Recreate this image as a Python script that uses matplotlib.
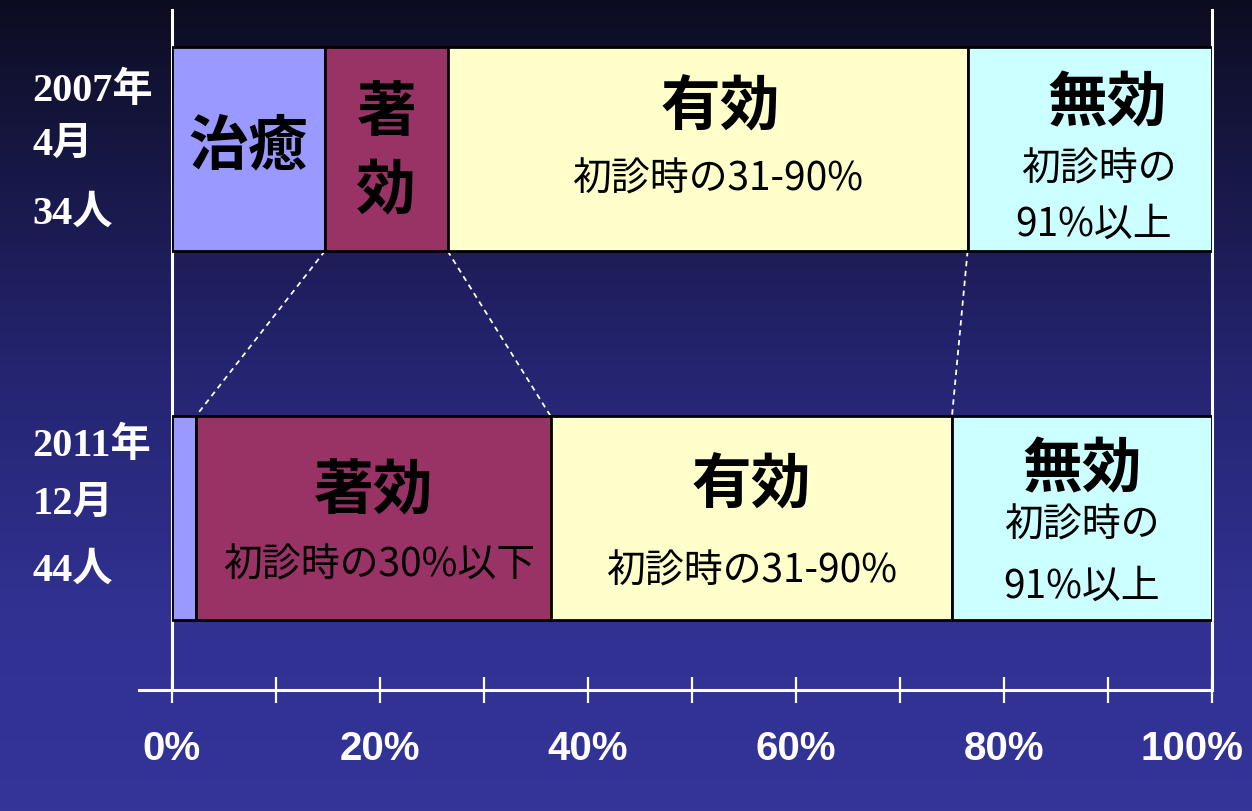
import numpy as np
import matplotlib
matplotlib.use("Agg")
import matplotlib.pyplot as plt
from matplotlib.colors import LinearSegmentedColormap
import matplotlib.transforms as mtransforms

# ---------------- data ----------------
rows = ["2007", "2011"]
row_labels = [["2007年", "4月", "34人"], ["2011年", "12月", "44人"]]
categories = ["治癒", "著効", "有効", "無効"]
# percent of patients (2007: 5,4,17,8 of 34 ; 2011: 1,15,17,11 of 44)
pct_2007 = [14.7, 11.8, 50.0, 23.5]
pct_2011 = [2.3, 34.1, 38.6, 25.0]
colors = ["#9999FF", "#993366", "#FFFFCC", "#CCFFFF"]
xticks_major = [0, 20, 40, 60, 80, 100]
xtick_labels = ["0%", "20%", "40%", "60%", "80%", "100%"]
xticks_minor = [10, 30, 50, 70, 90]

CJK = ["Noto Sans CJK JP", "DejaVu Sans"]
SERIF_CJK = ["Liberation Serif", "Noto Sans CJK JP"]

W, H = 1252, 811
fig = plt.figure(figsize=(W / 100, H / 100), dpi=100)

# background gradient
bg = fig.add_axes([0, 0, 1, 1])
bg.set_axis_off()
cmap = LinearSegmentedColormap.from_list(
    "bg", [(0.0, "#0c0c20"), (0.08, "#111130"), (0.45, "#242470"),
           (0.75, "#313192"), (1.0, "#343499")])
grad = np.linspace(0, 1, 256).reshape(-1, 1)
bg.imshow(grad, aspect="auto", cmap=cmap, extent=[0, 1, 0, 1], origin="upper")
bg.set_xlim(0, 1)
bg.set_ylim(0, 1)

# main axes : y data in pixel units (top=10, bottom axis line=690)
ax = fig.add_axes([172 / W, (H - 690) / H, 1040 / W, 680 / H])
ax.set_facecolor("none")
ax.set_xlim(0, 100)
ax.set_ylim(690, 10)

bar_y = [149, 518]
bar_h = 204
data = [pct_2007, pct_2011]
lefts_all = []
for yi, vals in zip(bar_y, data):
    lefts = np.concatenate([[0], np.cumsum(vals)[:-1]])
    lefts_all.append(lefts)
    ax.barh([yi] * len(vals), vals, left=lefts, height=bar_h, color=colors,
            edgecolor="black", linewidth=2.0, zorder=3)

# dashed connector lines between the two bars
top_edges = np.cumsum(pct_2007)[:-1]
bot_edges = np.cumsum(pct_2011)[:-1]
y_top = bar_y[0] + bar_h / 2
y_bot = bar_y[1] - bar_h / 2
for xt, xb in zip(top_edges, bot_edges):
    ax.plot([xt, xb], [y_top, y_bot], color="white", lw=1.3,
            linestyle=(0, (3, 2.5)), zorder=2)

# spines / ticks
for s in ["left", "right", "bottom"]:
    ax.spines[s].set_color("white")
    ax.spines[s].set_linewidth(2.2)
ax.spines["top"].set_visible(False)
ax.plot([-3.2, 0], [690, 690], color="white", lw=2.2, clip_on=False, zorder=1)
ax.set_yticks([])
ax.set_xticks(xticks_major)
ax.set_xticklabels(xtick_labels)
ax.set_xticks(xticks_minor, minor=True)
ax.tick_params(axis="x", which="both", direction="inout", length=19,
               width=1.6, color="white")
ax.tick_params(axis="x", which="major", pad=19, labelcolor="white",
               labelsize=29)
for lbl in ax.get_xticklabels():
    lbl.set_fontfamily("Liberation Sans")
    lbl.set_fontweight("bold")
last = ax.get_xticklabels()[-1]
last.set_transform(last.get_transform() +
                   mtransforms.ScaledTranslation(-20 / 100, 0, fig.dpi_scale_trans))

# row labels
row_line_y = [[91, 145, 214], [446, 504, 571]]
for labels, ys in zip(row_labels, row_line_y):
    for t, yy in zip(labels, ys):
        ax.text(-13.4, yy, t, color="white", fontsize=29, fontweight="bold",
                family=SERIF_CJK, ha="left", va="center", clip_on=False)

def seg_center(row, k):
    return lefts_all[row][k] + data[row][k] / 2

big = 43
small = 28
dy = 4
# top bar texts
ax.text(seg_center(0, 0), 143 + dy, "治癒", fontsize=big, family=CJK,
        fontweight="bold", ha="center", va="center", zorder=4)
ax.text(seg_center(0, 1), 110 + dy, "著", fontsize=big, family=CJK,
        fontweight="bold", ha="center", va="center", zorder=4)
ax.text(seg_center(0, 1), 187 + dy, "効", fontsize=big, family=CJK,
        fontweight="bold", ha="center", va="center", zorder=4)
ax.text(seg_center(0, 2) + 1.2, 104 + dy, "有効", fontsize=big, family=CJK,
        fontweight="bold", ha="center", va="center", zorder=4)
ax.text(seg_center(0, 2) + 1.0, 176 + dy, "初診時の31-90%", fontsize=small,
        family=CJK, ha="center", va="center", zorder=4)
ax.text(seg_center(0, 3) + 1.7, 100 + dy, "無効", fontsize=big, family=CJK,
        fontweight="bold", ha="center", va="center", zorder=4)
ax.text(seg_center(0, 3) + 0.9, 165 + dy, "初診時の", fontsize=small,
        family=CJK, ha="center", va="center", zorder=4)
ax.text(seg_center(0, 3) + 0.4, 221 + dy, "91%以上", fontsize=small,
        family=CJK, ha="center", va="center", zorder=4)

# bottom bar texts
ax.text(seg_center(1, 1), 487 + dy, "著効", fontsize=big, family=CJK,
        fontweight="bold", ha="center", va="center", zorder=4)
ax.text(seg_center(1, 1) + 0.6, 562 + dy, "初診時の30%以下", fontsize=small,
        family=CJK, ha="center", va="center", zorder=4)
ax.text(seg_center(1, 2), 482 + dy, "有効", fontsize=big, family=CJK,
        fontweight="bold", ha="center", va="center", zorder=4)
ax.text(seg_center(1, 2), 567 + dy, "初診時の31-90%", fontsize=small,
        family=CJK, ha="center", va="center", zorder=4)
ax.text(seg_center(1, 3), 466 + dy, "無効", fontsize=big, family=CJK,
        fontweight="bold", ha="center", va="center", zorder=4)
ax.text(seg_center(1, 3), 521 + dy, "初診時の", fontsize=small,
        family=CJK, ha="center", va="center", zorder=4)
ax.text(seg_center(1, 3), 583 + dy, "91%以上", fontsize=small,
        family=CJK, ha="center", va="center", zorder=4)

fig.savefig("out.png", dpi=100)
